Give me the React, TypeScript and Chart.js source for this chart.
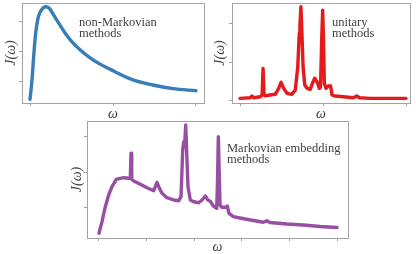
import React, { useEffect, useRef } from "react";
import { Chart, registerables } from "chart.js";

Chart.register(...registerables);

// ---------- data ----------
// non-Markovian methods (smooth spectral density)
const nmOmega = [0, 0.12, 0.22, 0.32, 0.46, 0.62, 0.83, 0.96, 1.16, 1.43, 1.73, 2.13, 2.53, 3.03, 3.54, 4.14, 4.84, 6.2, 7.4, 8.6, 10];
const nmJ = [0.42, 1.07, 1.84, 2.51, 3.07, 3.34, 3.49, 3.51, 3.46, 3.23, 2.96, 2.62, 2.34, 2.07, 1.84, 1.62, 1.42, 1.07, 0.9, 0.78, 0.71];

// unitary methods (structured spectral density)
const unOmega = [0, 0.62, 0.72, 0.83, 1.22, 1.33, 1.39, 1.45, 1.52, 2.12, 2.33, 2.47, 2.63, 2.83, 3.13, 3.33, 3.48, 3.57, 3.61, 3.67, 3.73, 3.8, 3.9, 4.04, 4.23, 4.38, 4.5, 4.64, 4.78, 4.85, 4.92, 4.98, 5.03, 5.08, 5.18, 5.32, 5.46, 5.54, 5.72, 6.22, 6.83, 7.03, 7.19, 7.83, 9.23, 10];
const unJ = [0.057, 0.073, 0.117, 0.073, 0.099, 0.144, 0.84, 0.144, 0.125, 0.162, 0.318, 0.475, 0.318, 0.188, 0.162, 0.274, 0.882, 1.755, 1.97, 2.45, 1.755, 0.882, 0.405, 0.318, 0.292, 0.465, 0.58, 0.49, 0.318, 0.35, 1.58, 2.36, 1.58, 0.45, 0.318, 0.379, 0.379, 0.144, 0.117, 0.099, 0.073, 0.117, 0.073, 0.057, 0.057, 0.057];

// Markovian embedding methods
const meOmega = [0, 0.126, 0.265, 0.408, 0.546, 0.727, 0.895, 1.038, 1.248, 1.315, 1.345, 1.374, 1.458, 1.735, 2.017, 2.298, 2.366, 2.437, 2.508, 2.647, 2.857, 3.139, 3.349, 3.445, 3.517, 3.559, 3.601, 3.643, 3.685, 3.739, 3.836, 3.979, 4.189, 4.328, 4.466, 4.567, 4.664, 4.803, 4.945, 4.979, 5.013, 5.042, 5.084, 5.155, 5.336, 5.391, 5.462, 5.643, 5.924, 6.483, 6.903, 7.046, 7.185, 7.887, 8.584, 9.286, 10];
const meJ = [0.288, 0.612, 1.031, 1.358, 1.589, 1.796, 1.824, 1.841, 1.824, 1.824, 2.522, 1.796, 1.749, 1.656, 1.561, 1.478, 1.589, 1.712, 1.589, 1.405, 1.282, 1.218, 1.198, 1.31, 2.615, 2.846, 2.802, 3.313, 2.522, 1.589, 1.218, 1.17, 1.142, 1.218, 1.33, 1.218, 1.19, 1.05, 0.986, 1.777, 2.986, 2.196, 1.078, 1.014, 1.014, 1.05, 0.846, 0.751, 0.715, 0.645, 0.595, 0.64, 0.589, 0.547, 0.52, 0.478, 0.45];

// tick values
const topXTicks = [0, 5, 10];
const bottomXTicks = [0, 2, 4, 6, 8, 10];
const nmYTicks = [1, 2, 3];
const unYTicks = [0, 1, 2];
const meYTicks = [1, 2, 3];

// labels
const yTitle = "J(ω)";
const xTitle = "ω";
const nmNote = ["non-Markovian", "methods"];
const unNote = ["unitary", "methods"];
const meNote = ["Markovian embedding", "methods"];

// ---------- styling ----------
const FRAME = "#a3a3a3";
const TEXT = "#3f3f3f";
const SERIF = "'Liberation Serif', 'Times New Roman', serif";

const framePlugin = {
  id: "frame",
  afterDraw(chart: any, _args: any, opts: any) {
    const { ctx, chartArea: a } = chart;
    ctx.save();
    ctx.strokeStyle = opts.color || FRAME;
    ctx.lineWidth = 1;
    const l = Math.round(a.left) + 0.5;
    const t = Math.round(a.top) + 0.5;
    const r = Math.round(a.right) + 0.5;
    const b = Math.round(a.bottom) + 0.5;
    ctx.strokeRect(l, t, r - l, b - t);
    ctx.restore();
  },
};

const notePlugin = {
  id: "note",
  afterDraw(chart: any, _args: any, opts: any) {
    if (!opts || !opts.lines) return;
    const { ctx } = chart;
    ctx.save();
    ctx.fillStyle = opts.color || TEXT;
    ctx.font = `${opts.size}px ${SERIF}`;
    ctx.textAlign = "left";
    ctx.textBaseline = "alphabetic";
    opts.lines.forEach((s: string, i: number) => {
      ctx.fillText(s, opts.x, opts.y + i * opts.dy);
    });
    ctx.restore();
  },
};

type PanelProps = {
  left: number;
  top: number;
  width: number;
  height: number;
  xs: number[];
  ys: number[];
  color: string;
  xRange: [number, number];
  yRange: [number, number];
  xTicks: number[];
  yTicks: number[];
  yAxisW: number;
  xAxisH: number;
  padTop: number;
  padRight: number;
  note: string[];
  noteX: number;
  noteY: number;
  noteDy: number;
  smooth?: boolean;
};

function Panel(p: PanelProps) {
  const ref = useRef<HTMLCanvasElement | null>(null);
  useEffect(() => {
    if (!ref.current) return;
    const titleFont = { family: SERIF, size: 14, style: "italic" as const, lineHeight: 1 };
    const axisBase = (ticks: number[], range: [number, number]) => ({
      type: "linear" as const,
      min: range[0],
      max: range[1],
      afterBuildTicks: (s: any) => {
        s.ticks = ticks.map((v) => ({ value: v }));
      },
      ticks: { display: false },
      grid: {
        drawOnChartArea: false,
        drawTicks: true,
        tickLength: 3,
        color: FRAME,
        lineWidth: 1,
      },
      border: { display: false },
    });
    const chart = new Chart(ref.current, {
      type: "line",
      data: {
        datasets: [
          {
            data: p.xs.map((x, i) => ({ x, y: p.ys[i] })),
            borderColor: p.color,
            borderWidth: 3.4,
            pointRadius: 0,
            fill: false,
            tension: 0,
            cubicInterpolationMode: p.smooth ? "monotone" : "default",
            borderJoinStyle: "round",
            borderCapStyle: "round",
          },
        ],
      },
      options: {
        responsive: false,
        maintainAspectRatio: false,
        devicePixelRatio: 1,
        animation: false,
        layout: { padding: { top: p.padTop, right: p.padRight, left: 0, bottom: 0 } },
        scales: {
          x: {
            ...axisBase(p.xTicks, p.xRange),
            position: "bottom",
            afterFit: (s: any) => {
              s.height = p.xAxisH;
            },
            title: { display: true, text: xTitle, font: titleFont, color: TEXT, padding: 0 },
          },
          y: {
            ...axisBase(p.yTicks, p.yRange),
            position: "left",
            afterFit: (s: any) => {
              s.width = p.yAxisW;
            },
            title: { display: true, text: yTitle, font: titleFont, color: TEXT, padding: 0 },
          },
        },
        plugins: {
          legend: { display: false },
          tooltip: { enabled: false },
          frame: { color: FRAME },
          note: { lines: p.note, x: p.noteX, y: p.noteY, dy: p.noteDy, size: 12.5, color: TEXT },
        } as any,
      },
      plugins: [framePlugin, notePlugin],
    } as any);
    return () => chart.destroy();
  }, []);
  return (
    <div style={{ position: "absolute", left: p.left, top: p.top, width: p.width, height: p.height }}>
      <canvas ref={ref} width={p.width} height={p.height} style={{ display: "block", width: p.width, height: p.height }} />
    </div>
  );
}

export default function App() {
  return (
    <div style={{ position: "fixed", left: 0, top: 0, width: 416, height: 254, background: "#ffffff", overflow: "hidden" }}>
      <Panel
        left={4}
        top={0}
        width={202}
        height={121}
        xs={nmOmega}
        ys={nmJ}
        color="#377eb8"
        xRange={[-0.482, 10.482]}
        yRange={[0.3, 3.633]}
        xTicks={topXTicks}
        yTicks={nmYTicks}
        yAxisW={18}
        xAxisH={18}
        padTop={3}
        padRight={2}
        note={nmNote}
        noteX={75}
        noteY={25.5}
        noteDy={11}
        smooth
      />
      <Panel
        left={213}
        top={0}
        width={199}
        height={121}
        xs={unOmega}
        ys={unJ}
        color="#e41a1c"
        xRange={[-0.482, 10.24]}
        yRange={[-0.065, 2.546]}
        xTicks={topXTicks}
        yTicks={unYTicks}
        yAxisW={19}
        xAxisH={18}
        padTop={3}
        padRight={2}
        note={unNote}
        noteX={119}
        noteY={25.5}
        noteDy={11}
      />
      <Panel
        left={70}
        top={118}
        width={280}
        height={136}
        xs={meOmega}
        ys={meJ}
        color="#984ea3"
        xRange={[-0.504, 10.46]}
        yRange={[0.156, 3.425]}
        xTicks={bottomXTicks}
        yTicks={meYTicks}
        yAxisW={17}
        xAxisH={16}
        padTop={3}
        padRight={2}
        note={meNote}
        noteX={157}
        noteY={33.5}
        noteDy={11.5}
      />
    </div>
  );
}
